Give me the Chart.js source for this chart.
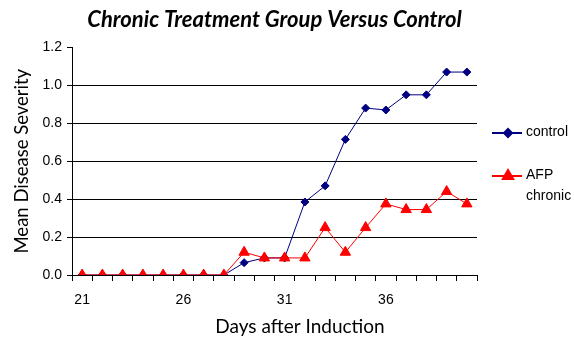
<!DOCTYPE html>
<html>
<head>
<meta charset="utf-8">
<script src="https://cdn.jsdelivr.net/npm/chart.js@4.4.0/dist/chart.umd.min.js"></script>
<style>
  html, body { margin: 0; padding: 0; background: #fff; }
  #wrap { width: 574px; height: 353px; position: relative; }
</style>
</head>
<body>
<div id="wrap"><canvas id="chart" width="574" height="353"></canvas></div>
<script>
// days after induction (category labels)
const days = [21, 22, 23, 24, 25, 26, 27, 28, 29, 30, 31, 32, 33, 34, 35, 36, 37, 38, 39, 40];

// mean disease severity
const controlValues = [0, 0, 0, 0, 0, 0, 0, 0, 0.065, 0.09, 0.09, 0.385, 0.47, 0.715, 0.88, 0.87, 0.95, 0.95, 1.07, 1.07];
const afpValues = [0, 0, 0, 0, 0, 0, 0, 0, 0.12, 0.09, 0.09, 0.09, 0.25, 0.12, 0.25, 0.375, 0.345, 0.345, 0.44, 0.375];

const shownDayLabels = [21, 26, 31, 36];

const NAVY = '#000080';
const RED = '#ff0000';
const TICK_FONT = { family: '"Liberation Sans", Arial, sans-serif', size: 14 };
const TITLE_FAMILY = 'Lato, "Open Sans", sans-serif';

// legend on the right + x axis title, drawn by hand (the "AFP chronic" label wraps)
const sideLegend = {
    id: 'sideLegend',
    afterDraw(chart) {
        const ctx = chart.ctx;
        const area = chart.chartArea;
        ctx.save();

        // x axis title, centred a bit right of the plot like the original
        ctx.font = '19px ' + TITLE_FAMILY;
        ctx.fillStyle = '#000';
        ctx.textAlign = 'center';
        ctx.textBaseline = 'middle';
        ctx.fillText('Days after Induction', 300, 327);

        const x0 = area.right + 15;
        const items = [
            { text: ['control'], color: NAVY, style: 'rectRot', radius: 4, y: 133 },
            { text: ['AFP', 'chronic'], color: RED, style: 'triangle', radius: 6, y: 176 }
        ];
        ctx.font = '14px ' + TICK_FONT.family;
        ctx.textAlign = 'left';
        items.forEach(it => {
            ctx.strokeStyle = it.color;
            ctx.lineWidth = 2;
            ctx.beginPath();
            ctx.moveTo(x0, it.y);
            ctx.lineTo(x0 + 30, it.y);
            ctx.stroke();
            ctx.fillStyle = it.color;
            Chart.helpers.drawPoint(ctx, { pointStyle: it.style, radius: it.radius, rotation: 0, borderWidth: 1 }, x0 + 16, it.y);
            ctx.fill();
            ctx.fillStyle = '#000';
            it.text.forEach((t, i) => ctx.fillText(t, x0 + 34, it.y - 1 + i * 21));
        });
        ctx.restore();
    }
};

new Chart(document.getElementById('chart'), {
    type: 'line',
    data: {
        labels: days,
        datasets: [
            {
                label: 'control',
                data: controlValues,
                borderColor: NAVY,
                backgroundColor: NAVY,
                borderWidth: 1,
                pointStyle: 'rectRot',
                pointRadius: 4,
                pointBorderWidth: 1,
                tension: 0,
                order: 1
            },
            {
                label: 'AFP chronic',
                data: afpValues,
                borderColor: RED,
                backgroundColor: RED,
                borderWidth: 1,
                pointStyle: 'triangle',
                pointRadius: 6,
                pointBorderWidth: 1,
                tension: 0,
                order: 0
            }
        ]
    },
    plugins: [sideLegend],
    options: {
        responsive: false,
        animation: false,
        layout: { padding: { left: 0, right: 97, top: 0, bottom: 0 } },
        plugins: {
            legend: { display: false },
            tooltip: { enabled: false },
            title: {
                display: true,
                fullSize: false,
                text: 'Chronic Treatment Group Versus Control',
                color: '#000',
                font: { family: TITLE_FAMILY, size: 22, style: 'italic', weight: 'bold' },
                padding: { top: 7, bottom: 14 }
            }
        },
        scales: {
            x: {
                offset: true,
                grid: {
                    offset: true,
                    drawOnChartArea: false,
                    tickLength: 6,
                    tickColor: '#000'
                },
                border: { color: '#000', width: 1 },
                ticks: {
                    autoSkip: false,
                    maxRotation: 0,
                    color: '#000',
                    font: TICK_FONT,
                    padding: 11,
                    callback: function (val, i) {
                        const d = days[i];
                        return shownDayLabels.includes(d) ? String(d) : '';
                    }
                },
                afterFit: s => { s.height = 78; }
            },
            y: {
                min: 0,
                max: 1.2,
                grid: {
                    color: c => (c.tick && c.tick.value >= 1.19 ? 'rgba(0,0,0,0)' : '#000'),
                    tickColor: '#000',
                    tickLength: 5
                },
                border: { color: '#000', width: 1 },
                ticks: {
                    stepSize: 0.2,
                    color: '#000',
                    font: TICK_FONT,
                    padding: 5,
                    callback: v => v.toFixed(1)
                },
                title: {
                    display: true,
                    text: 'Mean Disease Severity',
                    color: '#000',
                    font: { family: TITLE_FAMILY, size: 18.5 },
                    padding: { top: 11, bottom: 4 }
                },
                afterFit: s => { s.width = 72; }
            }
        }
    }
});
</script>
</body>
</html>
